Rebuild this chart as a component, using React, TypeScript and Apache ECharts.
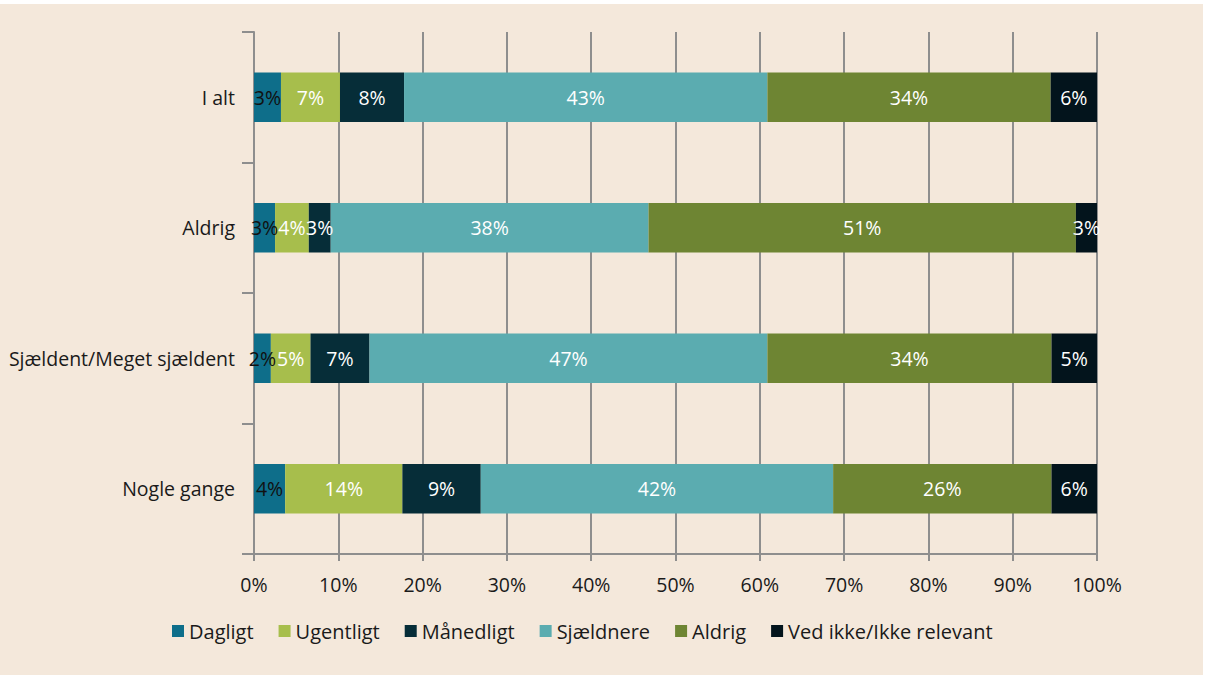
import React, { useEffect, useRef } from "react";
import * as echarts from "echarts";

const categories = ["I alt", "Aldrig", "Sjældent/Meget sjældent", "Nogle gange"];
const seriesNames = ["Dagligt", "Ugentligt", "Månedligt", "Sjældnere", "Aldrig", "Ved ikke/Ikke relevant"];
const dagligt = [3.2, 2.5, 2.0, 3.7];
const ugentligt = [7.0, 4.0, 4.7, 13.9];
const maanedligt = [7.6, 2.6, 7.0, 9.3];
const sjaeldnere = [43.1, 37.7, 47.2, 41.8];
const aldrig = [33.6, 50.7, 33.7, 25.9];
const vedIkke = [5.5, 2.5, 5.4, 5.6];
const xTicks = [0, 10, 20, 30, 40, 50, 60, 70, 80, 90, 100];

const colors = ["#0E6E8A", "#A7BE4C", "#062D38", "#5BACB0", "#6E8533", "#03141C"];
const labelColors = ["#111111", "#ffffff", "#ffffff", "#ffffff", "#ffffff", "#ffffff"];
const FONT = "'Open Sans', 'Noto Sans', sans-serif";
const FS = 19.5;

export default function App() {
  const ref = useRef<HTMLDivElement>(null);
  useEffect(() => {
    document.body.style.margin = "0";
    const chart = echarts.init(ref.current!, null, { renderer: "svg" });
    const allData = [dagligt, ugentligt, maanedligt, sjaeldnere, aldrig, vedIkke];
    chart.setOption({
      animation: false,
      backgroundColor: "#F4E8DB",
      textStyle: { fontFamily: FONT },
      grid: { left: 254, right: 106, top: 28, bottom: 121, containLabel: false },
      legend: {
        left: 167,
        top: 612,
        itemWidth: 12,
        itemHeight: 12,
        itemGap: 25,
        icon: "rect",
        data: seriesNames,
        textStyle: { fontFamily: FONT, fontSize: 20, color: "#1a1a1a" },
      },
      xAxis: {
        type: "value",
        min: xTicks[0],
        max: xTicks[xTicks.length - 1],
        interval: 10,
        axisLine: { show: true, lineStyle: { color: "#8E8E8E", width: 2 } },
        axisTick: { show: true, length: 7, lineStyle: { color: "#8E8E8E", width: 2 } },
        splitLine: { show: true, lineStyle: { color: "#8E8E8E", width: 2 } },
        axisLabel: {
          formatter: "{value}%",
          fontFamily: FONT,
          fontSize: FS,
          color: "#1a1a1a",
          margin: 20,
        },
      },
      yAxis: {
        type: "category",
        data: categories,
        inverse: true,
        axisLine: { show: true, lineStyle: { color: "#8E8E8E", width: 2 } },
        axisTick: { show: true, length: 12, lineStyle: { color: "#8E8E8E", width: 2 } },
        axisLabel: { fontFamily: FONT, fontSize: FS, color: "#1a1a1a", margin: 19 },
      },
      series: allData.map((d, i) => ({
        name: seriesNames[i],
        type: "bar",
        stack: "total",
        barWidth: "38%",
        data: d,
        itemStyle: { color: colors[i] },
        label: {
          show: true,
          position: "inside",
          color: labelColors[i],
          fontFamily: FONT,
          fontSize: FS,
          formatter: (p: any) => Math.round(p.value) + "%",
        },
      })),
    });
    return () => chart.dispose();
  }, []);
  return (
    <div style={{ width: 1205, height: 675, background: "#ffffff" }}>
      <div style={{ position: "relative", top: 4, width: 1203, height: 671 }}>
        <div ref={ref} style={{ width: 1203, height: 671 }} />
      </div>
    </div>
  );
}
